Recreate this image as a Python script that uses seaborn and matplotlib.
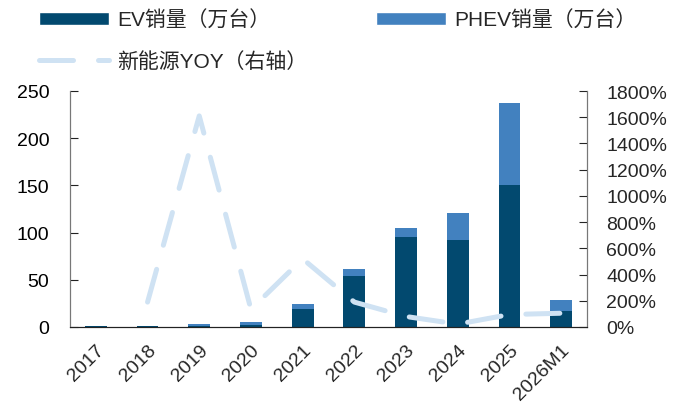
import numpy as np
import pandas as pd
import matplotlib
matplotlib.use("Agg")
import matplotlib.pyplot as plt
import seaborn as sns
from matplotlib.patches import Patch
from matplotlib.lines import Line2D
from matplotlib.ticker import FixedLocator

sns.set_style("white")
plt.rcParams['font.family'] = ['Liberation Sans', 'Noto Sans CJK SC', 'DejaVu Sans']

years = ["2017", "2018", "2019", "2020", "2021", "2022", "2023", "2024", "2025", "2026M1"]
ev = [0.7, 0.7, 1.0, 2.5, 19, 54, 95, 92, 150, 17]
phev = [0.6, 0.6, 2.3, 2.5, 5, 7, 9.5, 28.7, 87, 12]
yoy = [np.nan, 190, 1610, 135, 520, 190, 80, 22, 95, 105]  # %

c_ev = "#02496F"
c_phev = "#4281BF"
c_yoy = "#CFE2F3"

df = pd.DataFrame({"year": years, "ev": ev, "phev": phev, "yoy": yoy})
df["total"] = df["ev"] + df["phev"]

fig = plt.figure(figsize=(6.83, 4.06), dpi=100)
ax = fig.add_axes([70/683, 1-328/406, 517/683, 236/406])

sns.barplot(data=df, x="year", y="total", color=c_phev, width=0.42, saturation=1,
            linewidth=0, ax=ax)
sns.barplot(data=df, x="year", y="ev", color=c_ev, width=0.42, saturation=1,
            linewidth=0, ax=ax)

ax.set_ylim(0, 250)
ax.set_yticks([0, 50, 100, 150, 200, 250])
ax.set_xlim(-0.5, len(years) - 0.5)
ax.set_xlabel("")
ax.set_ylabel("")
ax.tick_params(axis="y", direction="in", length=6, labelsize=14, pad=15, colors="#222222", labelcolor="black")
ax.tick_params(axis="x", which="major", length=0, labelsize=14, pad=10)
ax.xaxis.set_minor_locator(FixedLocator(np.arange(0.5, len(years) - 1, 1)))
ax.tick_params(axis="x", which="minor", direction="in", length=5, color="#555555")
plt.setp(ax.get_xticklabels(), rotation=45, ha="right", va="top", rotation_mode="anchor")

ax2 = ax.twinx()
pos = np.arange(len(years))
sns.lineplot(x=pos, y=df["yoy"], ax=ax2, color=c_yoy, linewidth=3.6,
             dashes=False, solid_capstyle="round")
ax2.lines[0].set_dashes([6.8, 5])
ax2.lines[0].set_dash_capstyle("round")
ax2.set_ylim(0, 1800)
ax2.set_yticks(np.arange(0, 1801, 200))
ax2.set_yticklabels([f"{v}%" for v in range(0, 1801, 200)])
ax2.set_ylabel("")
ax2.tick_params(axis="y", direction="in", length=6, labelsize=14, pad=14)
ax2.set_xlim(-0.5, len(years) - 0.5)

for a in (ax, ax2):
    a.spines["top"].set_visible(False)
    a.spines["left"].set_color("#777777")
    a.spines["right"].set_color("#777777")
    a.spines["bottom"].set_color("#222222")
    a.grid(False)

handles = [
    Patch(facecolor=c_ev, label="EV销量（万台）"),
    Line2D([0], [0], color=c_yoy, linewidth=3.6, dashes=[6.8, 5], dash_capstyle="round",
           label="新能源YOY（右轴）"),
    Patch(facecolor=c_phev, label="PHEV销量（万台）"),
]
fig.legend(handles=handles, ncol=2, loc="upper left", bbox_to_anchor=(0.030, 1.019),
           frameon=False, handlelength=3.36, handleheight=0.58,
           handletextpad=0.38, columnspacing=3.3, labelspacing=1.0,
           prop={"family": ["Liberation Sans", "Noto Sans CJK SC"], "size": 15})

fig.savefig("out.png", dpi=100)
